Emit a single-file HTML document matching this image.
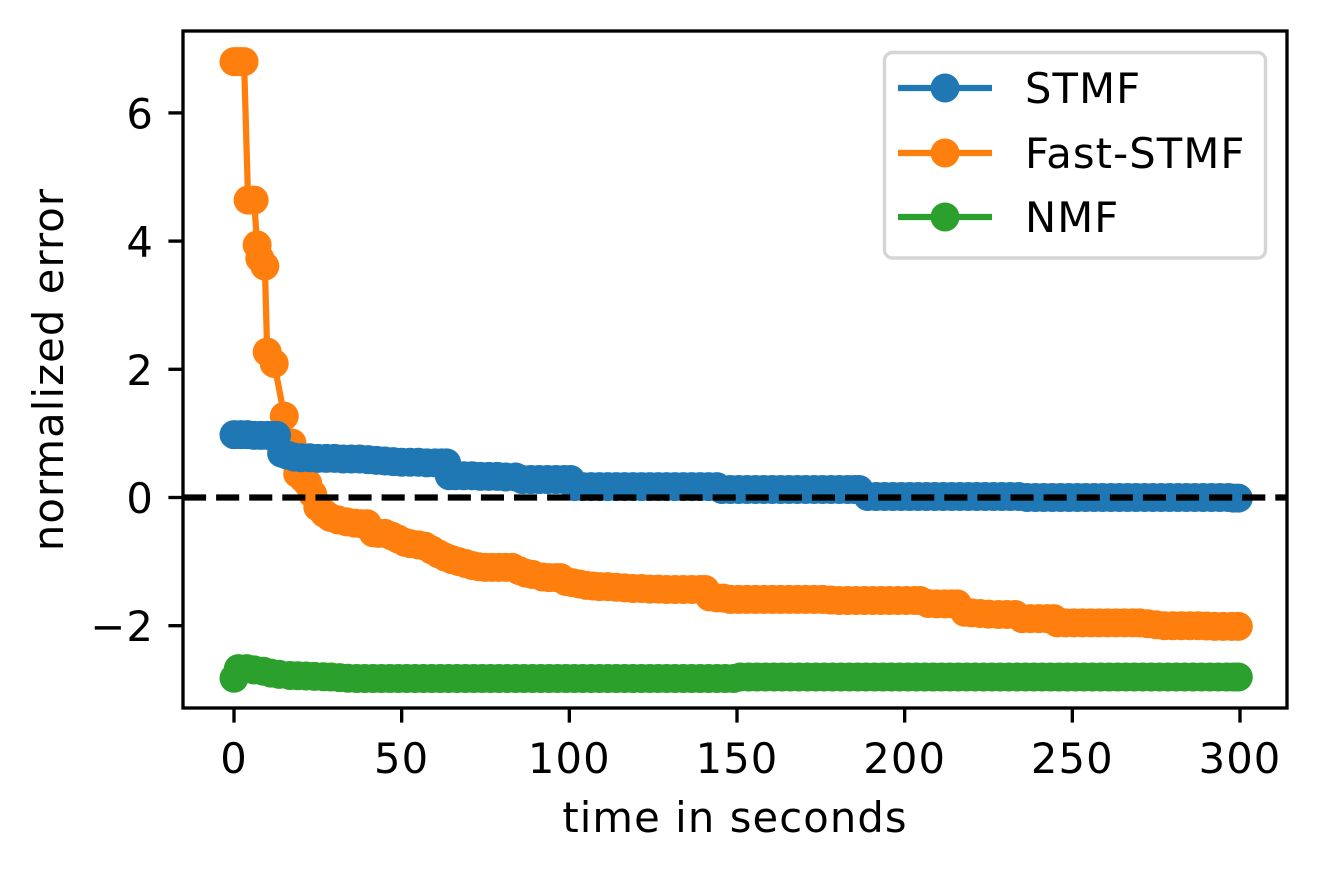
<!DOCTYPE html>
<html lang="en">
<head>
<meta charset="utf-8">
<title>Normalized error over time</title>
<style>
html,body{margin:0;padding:0;background:#fff;width:1317px;height:871px;overflow:hidden}
svg{display:block}
text{font-family:"DejaVu Sans","Liberation Sans",sans-serif;font-size:41.67px;letter-spacing:1.1px;fill:#000}
</style>
</head>
<body>
<svg id="chart" xmlns="http://www.w3.org/2000/svg" width="1317" height="871" viewBox="0 0 1317 871">
  <defs><clipPath id="plot-clip"><rect x="183" y="31" width="1104" height="677"/></clipPath></defs>
  <rect x="183" y="31" width="1104" height="677" fill="#fff"/>
  <g id="series" clip-path="url(#plot-clip)"></g>
  <g id="axes"></g>
  <text x="735" y="832" text-anchor="middle">time in seconds</text>
  <text transform="translate(63,369.5) rotate(-90)" text-anchor="middle">normalized error</text>
  <g>
    <rect x="884.5" y="52.5" width="381" height="205.500" rx="8" ry="8" fill="#fff" fill-opacity="0.8" stroke="#d5d5d5" stroke-width="3.4"/>
    <g>
      <line x1="898" x2="992" y1="88" y2="88" stroke="#1f77b4" stroke-width="6.25"/>
      <circle cx="945" cy="88" r="14.5" fill="#1f77b4"/>
      <text x="1025" y="103">STMF</text>
    </g>
    <g>
      <line x1="898" x2="992" y1="153" y2="153" stroke="#ff7f0e" stroke-width="6.25"/>
      <circle cx="945" cy="153" r="14.5" fill="#ff7f0e"/>
      <text x="1025" y="168">Fast-STMF</text>
    </g>
    <g>
      <line x1="898" x2="992" y1="217" y2="217" stroke="#2ca02c" stroke-width="6.25"/>
      <circle cx="945" cy="217" r="14.5" fill="#2ca02c"/>
      <text x="1025" y="232">NMF</text>
    </g>
  </g>
</svg>
<script>
const xTicks = [0, 50, 100, 150, 200, 250, 300];
const yTicks = [6, 4, 2, 0, -2];
const referenceLevel = 0;

const fastTimes = [
0,1,2,3,4.2,6,6.9,7.7,9.2,9.9,
12,15,17.3,19,20.6,22,23.5,25,27,28.7,
31,33.6,36,38,39.7,41.5,43,45,47,49,
51,52.5,55,57,59,61,63,65,67,69,
71,73,75,77,79,81,83,85,87,89,
92,94,96,97.4,99,101,103,105,107,109,
111.5,114,116.5,119,121.5,124,126.5,129,131.5,134,
136.5,139,140.5,141.8,144,146,148,150.5,153,155.5,
158,160.5,163,165.5,168,170.5,173,175.5,178,180.5,
183,185.5,188,190.5,193,195.5,198,200.5,203,204.6,
207,209.5,212,214,215.7,217.9,220,222.5,225,228,
230.5,233,235,237.5,240,242.5,244.5,245.5,248,250.5,
253,255.5,258,260.5,263,265.5,268,270,272.5,275,
277.5,280,282.5,285,287.5,290,292.5,295,297.5,299.5];
const fastValues = [
6.8,6.8,6.8,6.8,4.64,4.64,3.94,3.73,3.61,2.27,
2.09,1.27,0.85,0.37,0.3,0.22,0.05,-0.15,-0.25,-0.31,
-0.35,-0.38,-0.4,-0.41,-0.41,-0.55,-0.56,-0.56,-0.6,-0.65,
-0.7,-0.72,-0.74,-0.76,-0.82,-0.88,-0.93,-0.97,-1,-1.03,
-1.06,-1.08,-1.09,-1.09,-1.09,-1.09,-1.09,-1.14,-1.18,-1.2,
-1.24,-1.25,-1.25,-1.25,-1.31,-1.33,-1.35,-1.37,-1.38,-1.39,
-1.39,-1.4,-1.41,-1.42,-1.42,-1.43,-1.43,-1.435,-1.435,-1.435,
-1.435,-1.435,-1.435,-1.55,-1.565,-1.57,-1.59,-1.59,-1.59,-1.59,
-1.59,-1.59,-1.59,-1.59,-1.59,-1.59,-1.59,-1.59,-1.6,-1.607,
-1.607,-1.607,-1.607,-1.607,-1.607,-1.607,-1.607,-1.607,-1.607,-1.607,
-1.654,-1.66,-1.66,-1.66,-1.66,-1.79,-1.8,-1.81,-1.82,-1.825,
-1.825,-1.825,-1.89,-1.89,-1.89,-1.89,-1.89,-1.955,-1.955,-1.955,
-1.955,-1.955,-1.955,-1.955,-1.955,-1.955,-1.955,-1.955,-1.97,-1.985,
-2,-2,-2,-2,-2,-2.005,-2.01,-2.01,-2.01,-2.01];

const stmfTimes = [
0,2,4,6,8,10,12,12.7,14.2,16,
18,20,22.5,25,27.5,30,32.5,35,37.5,40,
42.5,45,47.5,50,52.5,55,57.5,60,62,63.4,
64.2,66,68.5,71,73.5,76,78.5,81,84,86,
88.5,91,93.5,96,98.5,100.4,101.5,104,106.5,109,
111.5,114,116.5,119,121.5,124,126.5,129,131.5,134,
136.5,139,141.5,144,145.5,148,150.5,153,155.5,158,
160.5,163,165.5,168,170.5,173,175.5,178,180.5,183,
185,186.4,189,191.5,194,196.5,199,201.5,204,206.5,
209,211.5,214,216.5,219,221.5,224,226.5,229,231.5,
234,236.5,239,241.5,244,246.5,249,251.5,254,256.5,
259,261.5,264,266.5,269,271.5,274,276.5,279,281.5,
284,286.5,289,291.5,294,296.5,298,299.5];
const stmfValues = [
0.98,0.98,0.98,0.97,0.97,0.97,0.97,0.97,0.69,0.66,
0.63,0.62,0.62,0.61,0.61,0.61,0.6,0.6,0.6,0.59,
0.58,0.57,0.56,0.55,0.55,0.55,0.54,0.54,0.54,0.54,
0.34,0.34,0.34,0.34,0.33,0.33,0.33,0.32,0.32,0.28,
0.28,0.28,0.28,0.28,0.28,0.28,0.17,0.17,0.17,0.17,
0.17,0.17,0.17,0.17,0.17,0.17,0.17,0.17,0.17,0.17,
0.17,0.17,0.17,0.17,0.125,0.125,0.125,0.125,0.125,0.125,
0.125,0.125,0.125,0.125,0.125,0.125,0.125,0.125,0.125,0.125,
0.125,0.125,0.015,0.015,0.015,0.015,0.015,0.015,0.015,0.015,
0.015,0.015,0.015,0.015,0.015,0.015,0.015,0.015,0.015,0.015,
0.015,0,0,0,0,0,0,0,0,0,
0,0,0,0,0,0,0,0,0,0,
0,0,0,0,0,0,-0.01,-0.01];

const nmfTimes = [
0,1.3,3.8,6,8.8,11,13.5,16.7,19,21.5,
24,26.7,29,31.5,34,36.6,39,41.5,44,46.5,
49,51.5,54,56.5,59,61.5,64,66.5,69,71.5,
74,76.5,79,81.5,84,86.5,89,91.5,94,96.5,
99,101.5,104,106.5,109,111.5,114,116.5,119,121.5,
124,126.5,129,131.5,134,136.5,139,141.5,144,146.5,
149,151,153.5,156,158.5,161,163.5,166,168.5,171,
173.5,176,178.5,181,183.5,186,188.5,191,193.5,196,
198.5,201,203.5,206,208.5,211,213.5,216,218.5,221,
223.5,226,228.5,231,233.5,236,238.5,241,243.5,246,
248.5,251,253.5,256,258.5,261,263.5,266,268.5,271,
273.5,276,278.5,281,283.5,286,288.5,291,293.5,296,
298,299.5];
const nmfValues = [
-2.82,-2.67,-2.67,-2.69,-2.71,-2.74,-2.76,-2.777,-2.78,-2.785,
-2.79,-2.797,-2.8,-2.81,-2.82,-2.824,-2.824,-2.824,-2.824,-2.824,
-2.824,-2.824,-2.824,-2.824,-2.824,-2.824,-2.824,-2.824,-2.824,-2.824,
-2.824,-2.824,-2.824,-2.824,-2.824,-2.824,-2.824,-2.824,-2.824,-2.824,
-2.824,-2.824,-2.824,-2.824,-2.824,-2.824,-2.824,-2.824,-2.824,-2.824,
-2.824,-2.824,-2.824,-2.824,-2.824,-2.824,-2.824,-2.824,-2.824,-2.824,
-2.824,-2.8,-2.8,-2.8,-2.8,-2.8,-2.8,-2.8,-2.8,-2.8,
-2.8,-2.8,-2.8,-2.8,-2.8,-2.8,-2.8,-2.8,-2.8,-2.8,
-2.8,-2.8,-2.8,-2.8,-2.8,-2.8,-2.8,-2.8,-2.8,-2.8,
-2.8,-2.8,-2.8,-2.8,-2.8,-2.8,-2.8,-2.8,-2.8,-2.8,
-2.8,-2.8,-2.8,-2.8,-2.8,-2.8,-2.8,-2.8,-2.8,-2.8,
-2.8,-2.8,-2.8,-2.8,-2.8,-2.8,-2.8,-2.8,-2.8,-2.8,
-2.8,-2.8];

const NS = 'http://www.w3.org/2000/svg';
const seriesLayer = document.getElementById('series');
const axesLayer = document.getElementById('axes');
const axisLeft = 183, axisRight = 1287, axisTop = 31, axisBottom = 708;

function xScale(v) { return 234 + v * (1240 - 234) / 300; }
function yScale(v) { return 497.5 - v * 64.1; }

function drawSeries(name, times, values, color) {
  const group = document.createElementNS(NS, 'g');
  
  
  const line = document.createElementNS(NS, 'polyline');
  
  
  line.setAttribute('fill', 'none');
  line.setAttribute('stroke', color);
  line.setAttribute('stroke-width', '6.25');
  line.setAttribute('points', times.map((t, i) => xScale(t) + ',' + yScale(values[i])).join(' '));
  group.appendChild(line);
  times.forEach((t, i) => {
    const point = document.createElementNS(NS, 'circle');
    
    
    point.setAttribute('cx', xScale(t));
    point.setAttribute('cy', yScale(values[i]));
    point.setAttribute('r', '14.5');
    point.setAttribute('fill', color);
    group.appendChild(point);
  });
  seriesLayer.appendChild(group);
}

drawSeries('fast-stmf', fastTimes, fastValues, '#ff7f0e');
drawSeries('stmf', stmfTimes, stmfValues, '#1f77b4');
drawSeries('nmf', nmfTimes, nmfValues, '#2ca02c');

const refLine = document.createElementNS(NS, 'line');


refLine.setAttribute('x1', axisLeft);
refLine.setAttribute('x2', axisRight);
refLine.setAttribute('y1', yScale(referenceLevel));
refLine.setAttribute('y2', yScale(referenceLevel));
refLine.setAttribute('stroke', '#000');
refLine.setAttribute('stroke-width', '6.25');
refLine.setAttribute('stroke-dasharray', '23.1 10');
seriesLayer.appendChild(refLine);

xTicks.forEach((v) => {
  const tick = document.createElementNS(NS, 'line');
  
  
  tick.setAttribute('x1', xScale(v));
  tick.setAttribute('x2', xScale(v));
  tick.setAttribute('y1', axisBottom);
  tick.setAttribute('y2', axisBottom + 14.6);
  tick.setAttribute('stroke', '#000');
  tick.setAttribute('stroke-width', '3.33');
  axesLayer.appendChild(tick);
  const label = document.createElementNS(NS, 'text');
  
  
  label.setAttribute('x', xScale(v));
  label.setAttribute('y', 773);
  label.setAttribute('text-anchor', 'middle');
  label.textContent = String(v);
  axesLayer.appendChild(label);
});

yTicks.forEach((v) => {
  const tick = document.createElementNS(NS, 'line');
  
  
  tick.setAttribute('x1', axisLeft - 14.6);
  tick.setAttribute('x2', axisLeft);
  tick.setAttribute('y1', yScale(v));
  tick.setAttribute('y2', yScale(v));
  tick.setAttribute('stroke', '#000');
  tick.setAttribute('stroke-width', '3.33');
  axesLayer.appendChild(tick);
  const label = document.createElementNS(NS, 'text');
  
  
  label.setAttribute('x', 154);
  label.setAttribute('y', yScale(v) + 15.5);
  label.setAttribute('text-anchor', 'end');
  label.textContent = (v < 0 ? '\u2212' : '') + String(Math.abs(v));
  axesLayer.appendChild(label);
});

const frame = document.createElementNS(NS, 'rect');


frame.setAttribute('x', axisLeft);
frame.setAttribute('y', axisTop);
frame.setAttribute('width', axisRight - axisLeft);
frame.setAttribute('height', axisBottom - axisTop);
frame.setAttribute('fill', 'none');
frame.setAttribute('stroke', '#000');
frame.setAttribute('stroke-width', '3.33');
axesLayer.appendChild(frame);
</script>
</body>
</html>
